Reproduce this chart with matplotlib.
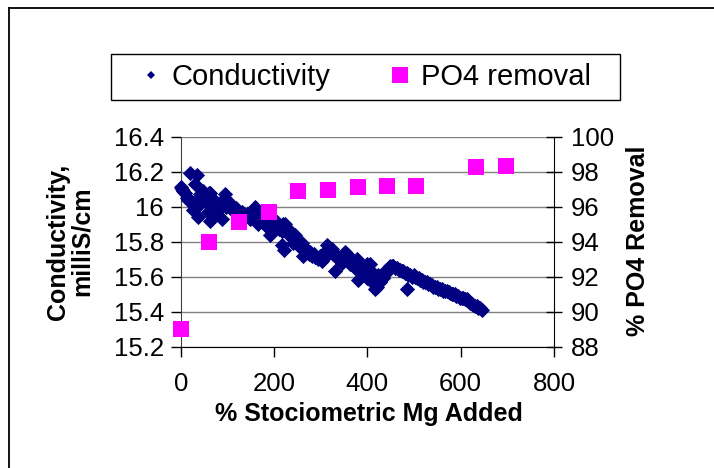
import matplotlib
matplotlib.use("Agg")
import matplotlib.pyplot as plt
from matplotlib.lines import Line2D
from matplotlib.patches import Rectangle

plt.rcParams['font.family'] = ['Liberation Sans', 'DejaVu Sans']

# conductivity readings (% stoichiometric Mg added, milliS/cm)
mg_added = [0, 3, 6, 9, 13, 16, 20, 22, 27, 28, 31, 34, 36, 38, 41, 44, 48, 52, 56, 58,
            60, 63, 63, 66, 70, 73, 77, 80, 84, 88, 92, 95, 98, 102, 105, 110, 113, 118, 122, 127,
            132, 138, 142, 148, 152, 156, 159, 163, 166, 170, 173, 177, 181, 185, 188, 191, 195, 199, 202, 206,
            210, 213, 217, 218, 220, 222, 223, 227, 231, 234, 238, 241, 241, 245, 248, 252, 256, 259, 263, 267,
            270, 274, 277, 281, 285, 288, 291, 295, 299, 302, 306, 309, 313, 313, 316, 320, 324, 327, 331, 334,
            338, 341, 345, 349, 352, 356, 359, 363, 366, 370, 373, 377, 377, 381, 384, 388, 391, 395, 399, 399,
            402, 406, 406, 409, 413, 416, 420, 423, 427, 430, 434, 438, 441, 445, 448, 452, 456, 459, 463, 467,
            470, 474, 477, 481, 484, 485, 488, 492, 495, 499, 502, 506, 510, 513, 517, 520, 524, 527, 531, 534,
            538, 541, 545, 549, 552, 556, 559, 563, 566, 570, 574, 577, 581, 584, 588, 591, 595, 598, 602, 606,
            609, 613, 616, 620, 623, 627, 631, 634, 638, 641, 645]
conductivity = [16.11, 16.10, 16.09, 16.08, 16.05, 16.04, 16.19, 16.03, 15.98, 16.02, 16.13, 16.18, 16.00, 15.94, 16.07, 16.05, 16.09, 16.03, 16.02, 15.97,
                16.08, 16.08, 15.92, 16.05, 15.96, 16.03, 16.00, 15.98, 16.02, 15.93, 16.03, 16.07, 16.00, 16.03, 15.99, 16.00, 15.98, 15.99, 15.97, 15.96,
                15.97, 15.94, 15.96, 15.93, 15.96, 15.97, 16.00, 15.95, 15.90, 15.94, 15.92, 15.94, 15.91, 15.93, 15.88, 15.84, 15.89, 15.91, 15.88, 15.91,
                15.87, 15.89, 15.86, 15.78, 15.90, 15.75, 15.90, 15.85, 15.87, 15.83, 15.85, 15.79, 15.84, 15.84, 15.80, 15.78, 15.77, 15.79, 15.72, 15.76,
                15.75, 15.73, 15.74, 15.72, 15.73, 15.71, 15.71, 15.70, 15.72, 15.69, 15.70, 15.73, 15.75, 15.78, 15.76, 15.74, 15.76, 15.73, 15.63, 15.72,
                15.70, 15.70, 15.68, 15.71, 15.74, 15.73, 15.70, 15.67, 15.69, 15.68, 15.65, 15.70, 15.66, 15.58, 15.66, 15.63, 15.61, 15.64, 15.59, 15.67,
                15.63, 15.67, 15.58, 15.60, 15.62, 15.53, 15.54, 15.61, 15.57, 15.60, 15.59, 15.62, 15.64, 15.63, 15.66, 15.66, 15.66, 15.65, 15.65, 15.64,
                15.64, 15.63, 15.63, 15.62, 15.62, 15.53, 15.61, 15.61, 15.60, 15.61, 15.60, 15.59, 15.59, 15.58, 15.58, 15.57, 15.57, 15.57, 15.56, 15.56,
                15.55, 15.54, 15.54, 15.54, 15.53, 15.53, 15.53, 15.52, 15.52, 15.52, 15.51, 15.505, 15.50, 15.50, 15.50, 15.49, 15.49, 15.48, 15.48, 15.48,
                15.47, 15.47, 15.46, 15.45, 15.45, 15.44, 15.43, 15.43, 15.42, 15.42, 15.41]

# phosphate removal (% stoichiometric Mg added, % PO4 removed)
po4_mg = [0, 61, 125, 189, 252, 316, 379, 442, 505, 632, 698]
po4_removal = [89.0, 94.0, 95.1, 95.7, 96.9, 96.95, 97.14, 97.2, 97.2, 98.26, 98.3]

cond_ticks = [15.2, 15.4, 15.6, 15.8, 16.0, 16.2, 16.4]
cond_labels = ['15.2', '15.4', '15.6', '15.8', '16', '16.2', '16.4']
po4_ticks = [88, 90, 92, 94, 96, 98, 100]
x_ticks = [0, 200, 400, 600, 800]

W, H = 714, 468
fig = plt.figure(figsize=(W / 100, H / 100), dpi=100)

ax = fig.add_axes([180.7 / W, 1 - 346.7 / H, (554 - 180.7) / W, (346.7 - 136.7) / H])
ax.scatter(mg_added, conductivity, marker='D', s=60, color='#000080',
           linewidths=0, zorder=3, clip_on=False)
ax.set_xlim(0, 800)
ax.set_ylim(15.2, 16.4)
ax.set_xticks(x_ticks)
ax.set_yticks(cond_ticks)
ax.set_yticklabels(cond_labels)
ax.yaxis.grid(True, color='#808080', linewidth=1.0)
ax.set_axisbelow(True)
ax.tick_params(axis='both', labelsize=18.5, direction='out', length=7, width=1,
               color='black', pad=5)
ax.tick_params(axis='x', pad=11)
ax.spines['top'].set_visible(False)
ax.spines['right'].set_visible(False)
ax.spines['left'].set_color('#404040')
ax.spines['bottom'].set_color('black')

ax2 = ax.twinx()
ax2.scatter(po4_mg, po4_removal, marker='s', s=118, color='#FF00FF',
            linewidths=0, zorder=4, clip_on=False)
ax2.set_ylim(88, 100)
ax2.set_yticks(po4_ticks)
ax2.tick_params(axis='y', labelsize=18.5, direction='inout', length=12, width=1, pad=6)
for side in ['top', 'left', 'bottom']:
    ax2.spines[side].set_visible(False)
ax2.spines['right'].set_color('black')

# axis titles
fig.text(369 / W, 1 - 421.5 / H, '% Stociometric Mg Added', ha='center',
         va='baseline', fontsize=18, fontweight='bold')
fig.text(70 / W, 1 - 241.7 / H, 'Conductivity,\nmilliS/cm', ha='center', va='center',
         rotation=90, multialignment='center', fontsize=18, fontweight='bold',
         linespacing=1.0)
fig.text(638 / W, 1 - 241 / H, '% PO4 Removal', ha='center', va='center',
         rotation=90, fontsize=18, fontweight='bold')

# legend, boxed separately so the frame can be wider than its entries
handles = [Line2D([], [], linestyle='none', marker='D', markersize=4.5,
                  markerfacecolor='#000080', markeredgewidth=0),
           Line2D([], [], linestyle='none', marker='s', markersize=11,
                  markerfacecolor='#FF00FF', markeredgewidth=0)]
fig.legend(handles, ['Conductivity', 'PO4 removal'], ncol=2,
           loc='center', bbox_to_anchor=(365 / W, 1 - 77 / H),
           fontsize=21, frameon=False,
           handlelength=0.8, handletextpad=0.3, columnspacing=2.0,
           borderpad=0.3, borderaxespad=0)
fig.add_artist(Rectangle((110.7 / W, 1 - 100 / H), (620 - 110.7) / W, 45.7 / H,
                         transform=fig.transFigure, fill=False,
                         edgecolor='black', linewidth=1.0))

# chart area border
fig.add_artist(Line2D([9.3 / W, 9.3 / W], [0, 1 - 8.3 / H], color='black', linewidth=1.3))
fig.add_artist(Line2D([9.3 / W, 1], [1 - 8.3 / H, 1 - 8.3 / H], color='black', linewidth=1.3))

fig.savefig('out.png', dpi=100)
